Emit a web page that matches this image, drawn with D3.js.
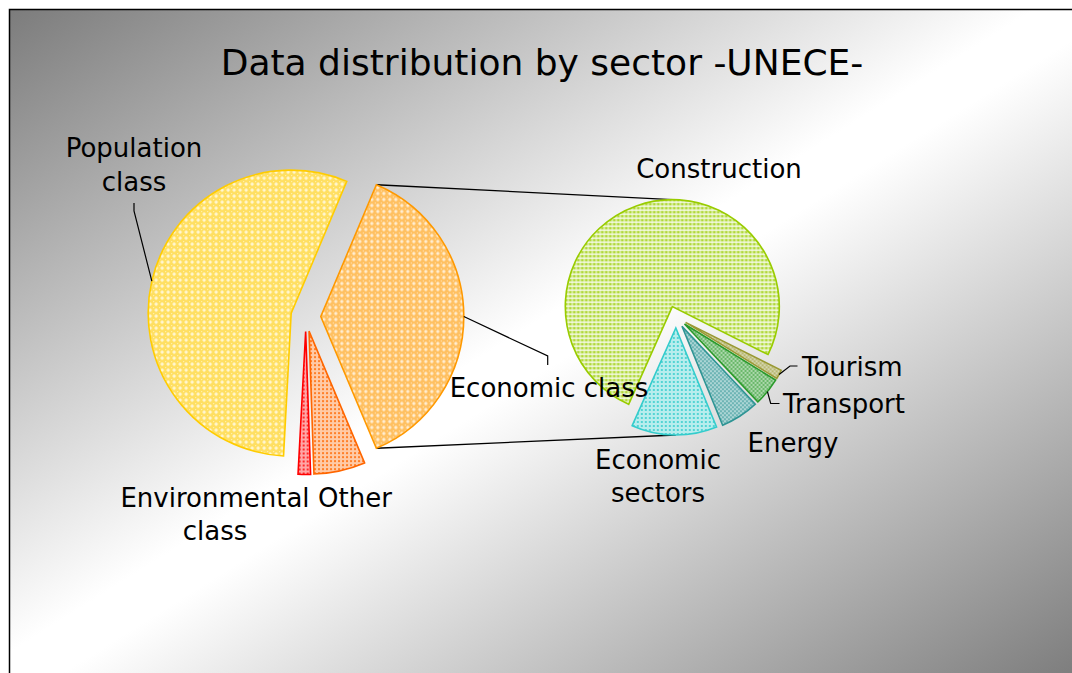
<!DOCTYPE html>
<html><head><meta charset="utf-8">
<script src="https://cdn.jsdelivr.net/npm/d3@7"></script>
<style>
body{margin:0;background:#fff;}
text{font-family:"DejaVu Sans",Verdana,sans-serif;fill:#000;}
</style>
</head><body>
<svg id="chart" width="1072" height="673"></svg>
<script>
// ---------- data ----------
const chartTitle = "Data distribution by sector -UNECE-";
const primaryCategories = ["Economic class", "Other", "Environmental class", "Population class"];
const primaryValues = [37.3, 5.8, 1.4, 55.5];
const secondaryCategories = ["Construction", "Economic sectors", "Energy", "Transport", "Tourism"];
const secondaryValues = [75.7, 12.9, 5.8, 4.2, 1.4];

// ---------- style ----------
const primaryColors = ["#FF9900", "#FF6600", "#FF0000", "#FFCC00"];
const primaryPatterns = ["lattice", "dots", "dots", "lattice"];
const secondaryColors = ["#99CC00", "#33CCCC", "#2E9494", "#2A9A2A", "#999933"];
const secondaryPatterns = ["fine", "dots", "diamond", "diamond", "diamond"];

const W = 1072, H = 673;
const svg = d3.select("#chart");
const defs = svg.append("defs");

// background gradient
const grad = defs.append("linearGradient").attr("id", "bg")
  .attr("x1", 0).attr("y1", 0).attr("x2", 1).attr("y2", 1);
grad.append("stop").attr("offset", 0).attr("stop-color", "#7c7c7c");
grad.append("stop").attr("offset", 0.48).attr("stop-color", "#ffffff");
grad.append("stop").attr("offset", 0.52).attr("stop-color", "#ffffff");
grad.append("stop").attr("offset", 1).attr("stop-color", "#7c7c7c");

svg.append("rect").attr("x", 9.5).attr("y", 9.5).attr("width", 1068).attr("height", 670)
  .attr("fill", "url(#bg)").attr("stroke", "#000").attr("stroke-width", 1.5);

// patterns
function makePattern(id, kind, color) {
  if (kind === "lattice") {
    const p = defs.append("pattern").attr("id", id).attr("patternUnits", "userSpaceOnUse")
      .attr("width", 6).attr("height", 6);
    p.append("rect").attr("width", 6).attr("height", 6).attr("fill", "#fff");
    p.append("rect").attr("width", 6).attr("height", 6).attr("fill", color).attr("opacity", 0.62);
    p.append("path").attr("d", "M3 1.2V4.8M1.2 3H4.8").attr("stroke", "#fff").attr("stroke-width", 1.2).attr("opacity", 0.9);
    p.append("rect").attr("x", 0).attr("y", 0).attr("width", 0.9).attr("height", 0.9).attr("fill", "#fff").attr("opacity", 0.8);
  } else if (kind === "dots") {
    const p = defs.append("pattern").attr("id", id).attr("patternUnits", "userSpaceOnUse")
      .attr("width", 4).attr("height", 4);
    p.append("rect").attr("width", 4).attr("height", 4).attr("fill", "#fff");
    p.append("rect").attr("width", 4).attr("height", 4).attr("fill", color).attr("opacity", 0.35);
    p.append("rect").attr("x", 1).attr("y", 1).attr("width", 2).attr("height", 2).attr("fill", color).attr("opacity", 0.75);
  } else if (kind === "fine") {
    const p = defs.append("pattern").attr("id", id).attr("patternUnits", "userSpaceOnUse")
      .attr("width", 4).attr("height", 4);
    p.append("rect").attr("width", 4).attr("height", 4).attr("fill", "#fff");
    p.append("rect").attr("width", 4).attr("height", 3).attr("fill", color).attr("opacity", 0.4);
    p.append("rect").attr("x", 1).attr("y", 0.5).attr("width", 2).attr("height", 2).attr("fill", color).attr("opacity", 0.75);
  } else {
    const p = defs.append("pattern").attr("id", id).attr("patternUnits", "userSpaceOnUse")
      .attr("width", 4).attr("height", 4);
    p.append("rect").attr("width", 4).attr("height", 4).attr("fill", "#fff");
    p.append("rect").attr("width", 4).attr("height", 4).attr("fill", color).attr("opacity", 0.7);
    p.append("circle").attr("cx", 1).attr("cy", 1).attr("r", 0.8).attr("fill", "#fff");
    p.append("circle").attr("cx", 3).attr("cy", 3).attr("r", 0.8).attr("fill", "#fff");
  }
}
primaryColors.forEach((c, i) => makePattern("pp" + i, primaryPatterns[i], c));
secondaryColors.forEach((c, i) => makePattern("sp" + i, secondaryPatterns[i], c));

// ---------- title ----------
svg.append("text").attr("x", 542).attr("y", 75).attr("text-anchor", "middle")
  .attr("font-size", 36).text(chartTitle);

// ---------- layout ----------
const deg = Math.PI / 180;
const P = { cx: 305.8, cy: 316.5, r: 143, explode: 15 };
const S = { cx: 676, cy: 317, r: 107, explode: 11 };

const pSum = d3.sum(primaryValues);
const pStart = Math.PI / 2 - Math.PI * primaryValues[0] / pSum; // split slice centred on the right
const primaryPie = d3.pie().sort(null).value(d => d).startAngle(pStart).endAngle(pStart + 2 * Math.PI);
const sStart = 116.6 * deg + 2 * Math.PI;
const secondaryPie = d3.pie().sort(null).value(d => d).startAngle(sStart).endAngle(sStart - 2 * Math.PI);

const pArcs = primaryPie(primaryValues);
const sArcs = secondaryPie(secondaryValues);

const pArcGen = d3.arc().innerRadius(0).outerRadius(P.r);
const sArcGen = d3.arc().innerRadius(0).outerRadius(S.r);

function offset(a, dist) {
  const m = (a.startAngle + a.endAngle) / 2;
  return [dist * Math.sin(m), -dist * Math.cos(m)];
}
function pt(cx, cy, r, ang) { return [cx + r * Math.sin(ang), cy - r * Math.cos(ang)]; }

// connector lines (drawn under the pies)
const econ = pArcs[0];
const eo = offset(econ, P.explode);
const econTop = pt(P.cx + eo[0], P.cy + eo[1], P.r, econ.startAngle);
const econBot = pt(P.cx + eo[0], P.cy + eo[1], P.r, econ.endAngle);
const co = offset(sArcs[0], S.explode);
const so = offset(sArcs[1], S.explode);
const secTop = [S.cx + co[0], S.cy + co[1] - S.r];
const secBot = [S.cx + so[0], S.cy + so[1] + S.r];
const line = d3.line();
svg.append("path").attr("d", line([econTop, secTop])).attr("stroke", "#000").attr("stroke-width", 1.3).attr("fill", "none");
svg.append("path").attr("d", line([econBot, secBot])).attr("stroke", "#000").attr("stroke-width", 1.3).attr("fill", "none");

// primary pie
svg.append("g").selectAll("path").data(pArcs).join("path")
  .attr("transform", d => { const o = offset(d, P.explode); return `translate(${P.cx + o[0]},${P.cy + o[1]})`; })
  .attr("d", pArcGen)
  .attr("fill", (d, i) => `url(#pp${i})`)
  .attr("stroke", (d, i) => primaryColors[i])
  .attr("stroke-width", 1.6)
  .attr("stroke-linejoin", "miter");

// secondary pie
svg.append("g").selectAll("path").data(sArcs).join("path")
  .attr("transform", d => { const o = offset(d, S.explode); return `translate(${S.cx + o[0]},${S.cy + o[1]})`; })
  .attr("d", sArcGen)
  .attr("fill", (d, i) => `url(#sp${i})`)
  .attr("stroke", (d, i) => secondaryColors[i])
  .attr("stroke-width", 1.6)
  .attr("stroke-linejoin", "miter");

// ---------- leader lines ----------
function midPoint(a, C) {
  const o = offset(a, C.explode);
  return pt(C.cx + o[0], C.cy + o[1], C.r, (a.startAngle + a.endAngle) / 2);
}
const leaders = [
  [[134, 203], [134, 211], midPoint(pArcs[3], P)],
  [midPoint(pArcs[0], P), [547.7, 356], [547.7, 365]],
  [midPoint(sArcs[4], S), [790, 366], [797.5, 366]],
  [midPoint(sArcs[3], S), [770.7, 403.5], [779.5, 403.5]]
];
svg.append("g").selectAll("path").data(leaders).join("path")
  .attr("d", d => line(d)).attr("fill", "none").attr("stroke", "#000").attr("stroke-width", 1.2);

// ---------- labels ----------
const labels = [
  { lines: ["Population", "class"], x: 134, y: 157, anchor: "middle" },
  { lines: ["Economic class"], x: 549, y: 397, anchor: "middle" },
  { lines: ["Environmental", "class"], x: 215, y: 506.5, anchor: "middle" },
  { lines: ["Other"], x: 355, y: 506.5, anchor: "middle" },
  { lines: ["Construction"], x: 719, y: 178, anchor: "middle" },
  { lines: ["Economic", "sectors"], x: 658, y: 468.5, anchor: "middle" },
  { lines: ["Energy"], x: 793, y: 452, anchor: "middle" },
  { lines: ["Transport"], x: 783, y: 413, anchor: "start" },
  { lines: ["Tourism"], x: 802, y: 376, anchor: "start" }
];
const lg = svg.append("g");
labels.forEach(l => {
  const t = lg.append("text").attr("x", l.x).attr("y", l.y).attr("text-anchor", l.anchor).attr("font-size", 26);
  l.lines.forEach((s, i) => t.append("tspan").attr("x", l.x).attr("dy", i === 0 ? 0 : 33.5).text(s));
});
</script>
</body></html>
